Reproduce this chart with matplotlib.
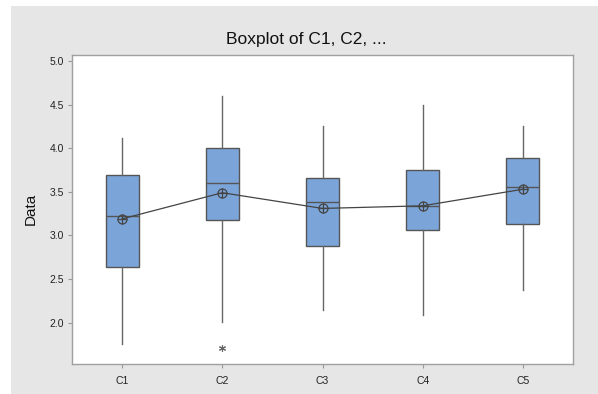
import matplotlib.pyplot as plt
from matplotlib.patches import Rectangle

plt.rcParams["font.family"] = ["Liberation Sans", "DejaVu Sans"]

labels  = ["C1", "C2", "C3", "C4", "C5"]
whislo  = [1.76, 2.01, 2.14, 2.09, 2.38]
q1      = [2.64, 3.18, 2.88, 3.06, 3.13]
median  = [3.22, 3.60, 3.38, 3.34, 3.56]
mean    = [3.19, 3.49, 3.31, 3.34, 3.53]
q3      = [3.69, 4.00, 3.66, 3.75, 3.89]
whishi  = [4.12, 4.60, 4.25, 4.50, 4.25]
fliers  = [[], [1.71], [], [], []]

BG = "#E6E6E6"
BOX = "#7BA5D9"
EDGE = "#555555"

stats = []
for i, lab in enumerate(labels):
    stats.append(dict(label=lab, whislo=whislo[i], q1=q1[i], med=median[i],
                      q3=q3[i], whishi=whishi[i], mean=mean[i], fliers=fliers[i]))

fig = plt.figure(figsize=(5.98, 3.94), dpi=100)
fig.patch.set_facecolor("white")
# grey panel behind the chart
panel = Rectangle((11 / 598, 0), 1, 1 - 6 / 394, transform=fig.transFigure,
                  facecolor=BG, edgecolor="none", zorder=-1)
fig.add_artist(panel)
ax = fig.add_axes([0.1204, 0.0774, 0.8378, 0.783])
ax.set_facecolor("white")

pos = list(range(1, len(labels) + 1))
ax.bxp(stats, positions=pos, widths=0.33, patch_artist=True, showcaps=False,
       showmeans=False,
       boxprops=dict(facecolor=BOX, edgecolor=EDGE, linewidth=1.0),
       medianprops=dict(color=EDGE, linewidth=1.0),
       whiskerprops=dict(color="#666666", linewidth=1.0),
       flierprops=dict(marker=(6, 2, 0), markersize=5, markeredgecolor="#666666",
                       markeredgewidth=0.8, linestyle="none"))

# mean connect line and mean symbols
ax.plot(pos, mean, color="#444444", linewidth=0.9, zorder=4)
ax.plot(pos, mean, linestyle="none", marker="o", markersize=6.5,
        markerfacecolor="none", markeredgecolor="#444444", markeredgewidth=0.9, zorder=5)
ax.plot(pos, mean, linestyle="none", marker="+", markersize=6.5,
        markeredgecolor="#444444", markeredgewidth=0.9, zorder=5)

ax.set_xlim(0.5, 5.5)
ax.set_ylim(1.532, 5.069)
ax.set_yticks([2.0, 2.5, 3.0, 3.5, 4.0, 4.5, 5.0])
ax.set_yticklabels(["2.0", "2.5", "3.0", "3.5", "4.0", "4.5", "5.0"])
ax.set_xticks(pos)
ax.set_xticklabels(labels)
ax.tick_params(direction="out", length=3, width=0.8, color="#999999",
               labelsize=7.5, labelcolor="#222222", pad=3)
ax.tick_params(axis="x", pad=6)
for s in ax.spines.values():
    s.set_color("#A0A0A0")
    s.set_linewidth(1.0)

ax.set_ylabel("Data", fontsize=11, color="#111111", labelpad=8)
fig.text(0.512, 0.9, "Boxplot of C1, C2, ...", ha="center", va="center",
         fontsize=12.5, color="#111111")

fig.savefig("out.png", dpi=100, facecolor=fig.get_facecolor())
